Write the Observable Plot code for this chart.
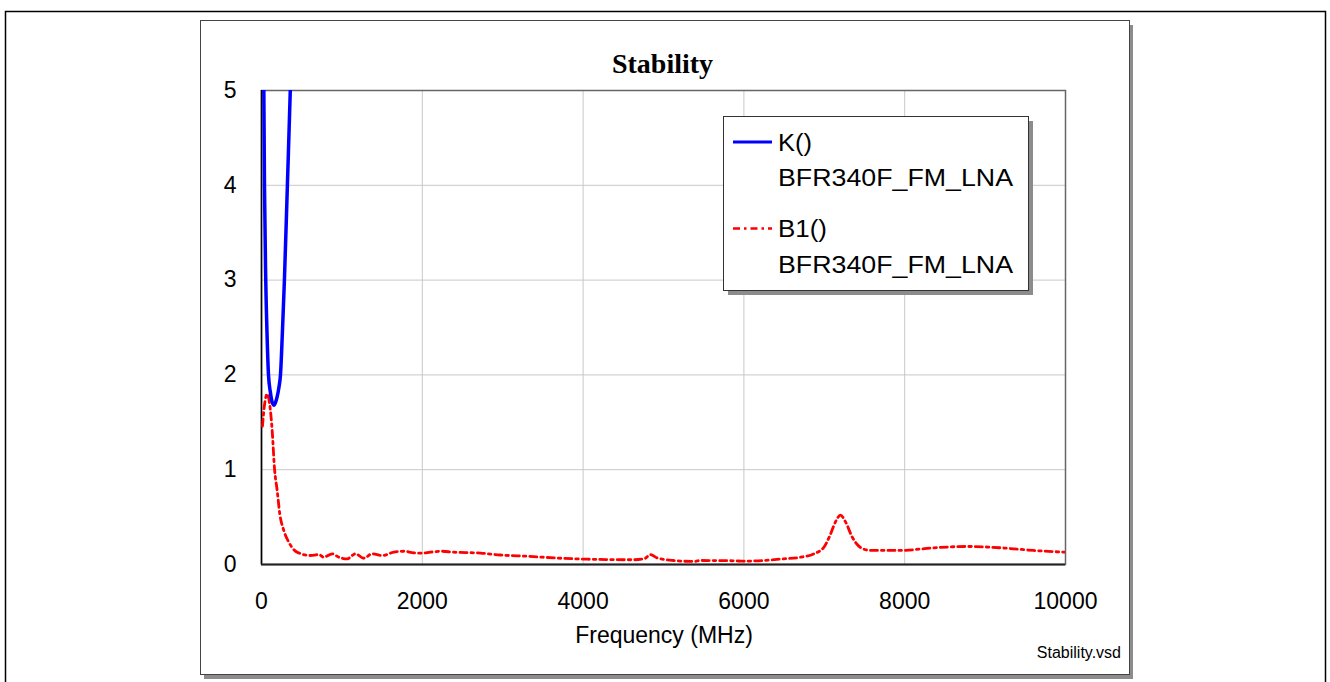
<!DOCTYPE html>
<html>
<head>
<meta charset="utf-8">
<script src="https://cdn.jsdelivr.net/npm/d3@7"></script>
<script src="https://cdn.jsdelivr.net/npm/@observablehq/plot@0.6"></script>
<style>
  html, body { margin: 0; padding: 0; background: #ffffff; }
  svg { display: block; }
</style>
</head>
<body>
<script>
// Stability factor K() of the BFR340F FM LNA versus frequency (MHz)
const kFreq  = [18, 29, 37, 53, 70, 87, 110, 130, 153, 175, 195, 215, 236, 260, 285, 322, 358, 390];
const kValue = [7.0, 5.0, 4.0, 3.0, 2.4, 2.0, 1.82, 1.72, 1.68, 1.71, 1.77, 1.86, 2.0, 2.45, 3.0, 4.0, 5.0, 6.0];

// Stability measure B1() of the same amplifier
const b1Freq  = [12, 37, 71, 100, 133, 162, 195, 228, 277, 340,
                 444, 609, 713, 775, 879, 962, 1066, 1169, 1272, 1376,
                 1501, 1646, 1770, 1894, 1978, 2102, 2226, 2392, 2724, 2973,
                 3305, 3719, 4051, 4631, 4760, 4838, 4921, 5128, 5377, 5460,
                 5874, 5999, 6496, 6704, 6870, 6994, 7077, 7139, 7201, 7264,
                 7347, 7450, 7575, 7948, 8362, 8777, 9192, 9605, 10000];
const b1Value = [1.46, 1.68, 1.80, 1.70, 1.41, 1.01, 0.78, 0.53, 0.36, 0.235,
                 0.13, 0.095, 0.105, 0.077, 0.113, 0.077, 0.06, 0.113, 0.066, 0.113,
                 0.095, 0.13, 0.14, 0.123, 0.12, 0.13, 0.14, 0.13, 0.12, 0.10,
                 0.087, 0.066, 0.056, 0.05, 0.06, 0.105, 0.07, 0.042, 0.032, 0.042,
                 0.039, 0.035, 0.06, 0.077, 0.113, 0.18, 0.32, 0.45, 0.52, 0.45,
                 0.29, 0.18, 0.148, 0.148, 0.176, 0.19, 0.176, 0.148, 0.13];

const xTicks = [0, 2000, 4000, 6000, 8000, 10000];
const yTicks = [0, 1, 2, 3, 4, 5];

const chartTitle = "Stability";
const xLabel = "Frequency (MHz)";
const fileNote = "Stability.vsd";
const seriesNames = ["K()", "B1()"];
const circuitName = "BFR340F_FM_LNA";
const seriesColors = ["#0000ff", "#ff0000"];
const b1Dash = "7,4,2.5,4";

const kData = kFreq.map((f, i) => ({freq: f, value: kValue[i]}));
const b1Data = b1Freq.map((f, i) => ({freq: f, value: b1Value[i]}));

const chart = Plot.plot({
  width: 1330,
  height: 682,
  marginLeft: 261,
  marginRight: 265,
  marginTop: 90,
  marginBottom: 118,
  x: {domain: [0, 10000]},
  y: {domain: [0, 5]},
  style: {
    fontFamily: "'Liberation Sans', Arial, sans-serif",
    fontSize: "23px",
    background: "#ffffff",
    color: "#000000",
    overflow: "visible"
  },
  marks: [
    Plot.gridX(xTicks.slice(1, -1), {stroke: "#c8c8c8", strokeOpacity: 1, strokeWidth: 1}),
    Plot.gridY(yTicks.slice(1, -1), {stroke: "#c8c8c8", strokeOpacity: 1, strokeWidth: 1}),
    Plot.axisX({ticks: xTicks, tickSize: 0, tickPadding: 28, tickFormat: d => String(d), label: null}),
    Plot.axisY({ticks: yTicks, tickSize: 0, tickPadding: 25, tickFormat: d => String(d), label: null}),
    Plot.frame({stroke: "#666666", strokeWidth: 1.5}),
    Plot.ruleX([0], {stroke: "#000000", strokeWidth: 1.5}),
    Plot.ruleY([0], {stroke: "#222222", strokeWidth: 2}),
    Plot.line(b1Data, {x: "freq", y: "value", stroke: seriesColors[1], strokeWidth: 2.8,
      strokeDasharray: b1Dash, curve: "monotone-x", clip: true}),
    Plot.line(kData, {x: "freq", y: "value", stroke: seriesColors[0], strokeWidth: 3.5,
      curve: "monotone-x", clip: true})
  ]
});

document.body.appendChild(chart);

const svg = d3.select(chart);

// Page border and the raised chart panel behind the plot
const under = svg.insert("g", ":first-child");
under.append("rect").attr("x", 0).attr("y", 0).attr("width", 1330).attr("height", 682).attr("fill", "#ffffff");
under.append("rect")
  .attr("x", 5.5).attr("y", 11.5).attr("width", 1320).attr("height", 700)
  .attr("fill", "none").attr("stroke", "#000000").attr("stroke-width", 1.5);
under.append("rect")
  .attr("x", 204).attr("y", 25).attr("width", 929).attr("height", 654)
  .attr("fill", "#8c8c8c");
under.append("rect")
  .attr("x", 200.5).attr("y", 20.5).attr("width", 929).attr("height", 654)
  .attr("fill", "#ffffff").attr("stroke", "#444444").attr("stroke-width", 1);

// Title, axis label and file note
const over = svg.append("g").attr("text-anchor", "start");
over.append("text")
  .attr("x", 662.5).attr("y", 73).attr("text-anchor", "middle")
  .attr("font-family", "'Liberation Serif', 'Times New Roman', serif")
  .attr("font-weight", "bold").attr("font-size", 28)
  .attr("fill", "#000000")
  .text(chartTitle);
over.append("text")
  .attr("x", 664).attr("y", 643).attr("text-anchor", "middle")
  .attr("font-size", 23).attr("fill", "#000000")
  .text(xLabel);
over.append("text")
  .attr("x", 1121).attr("y", 658).attr("text-anchor", "end")
  .attr("font-size", 16).attr("fill", "#000000")
  .text(fileNote);

// Legend box with drop shadow
const legend = over.append("g");
legend.append("rect")
  .attr("x", 728).attr("y", 121).attr("width", 305).attr("height", 174)
  .attr("fill", "#8c8c8c");
legend.append("rect")
  .attr("x", 723.5).attr("y", 116.5).attr("width", 305).attr("height", 174)
  .attr("fill", "#ffffff").attr("stroke", "#333333").attr("stroke-width", 1);

const entryTop = [142, 228.5];
seriesNames.forEach((name, i) => {
  const y = entryTop[i];
  legend.append("line")
    .attr("x1", 733).attr("x2", 772).attr("y1", y).attr("y2", y)
    .attr("stroke", seriesColors[i]).attr("stroke-width", i === 0 ? 3 : 2.5)
    .attr("stroke-dasharray", i === 0 ? null : b1Dash);
  legend.append("text")
    .attr("x", 778).attr("y", y + 8.5).attr("text-anchor", "start")
    .attr("font-size", 23).attr("fill", "#000000")
    .attr("textLength", i === 0 ? 34 : 49).attr("lengthAdjust", "spacingAndGlyphs")
    .text(name);
  legend.append("text")
    .attr("x", 778).attr("y", y + 44).attr("text-anchor", "start")
    .attr("font-size", 23).attr("fill", "#000000")
    .attr("textLength", 235).attr("lengthAdjust", "spacingAndGlyphs")
    .text(circuitName);
});
</script>
</body>
</html>
